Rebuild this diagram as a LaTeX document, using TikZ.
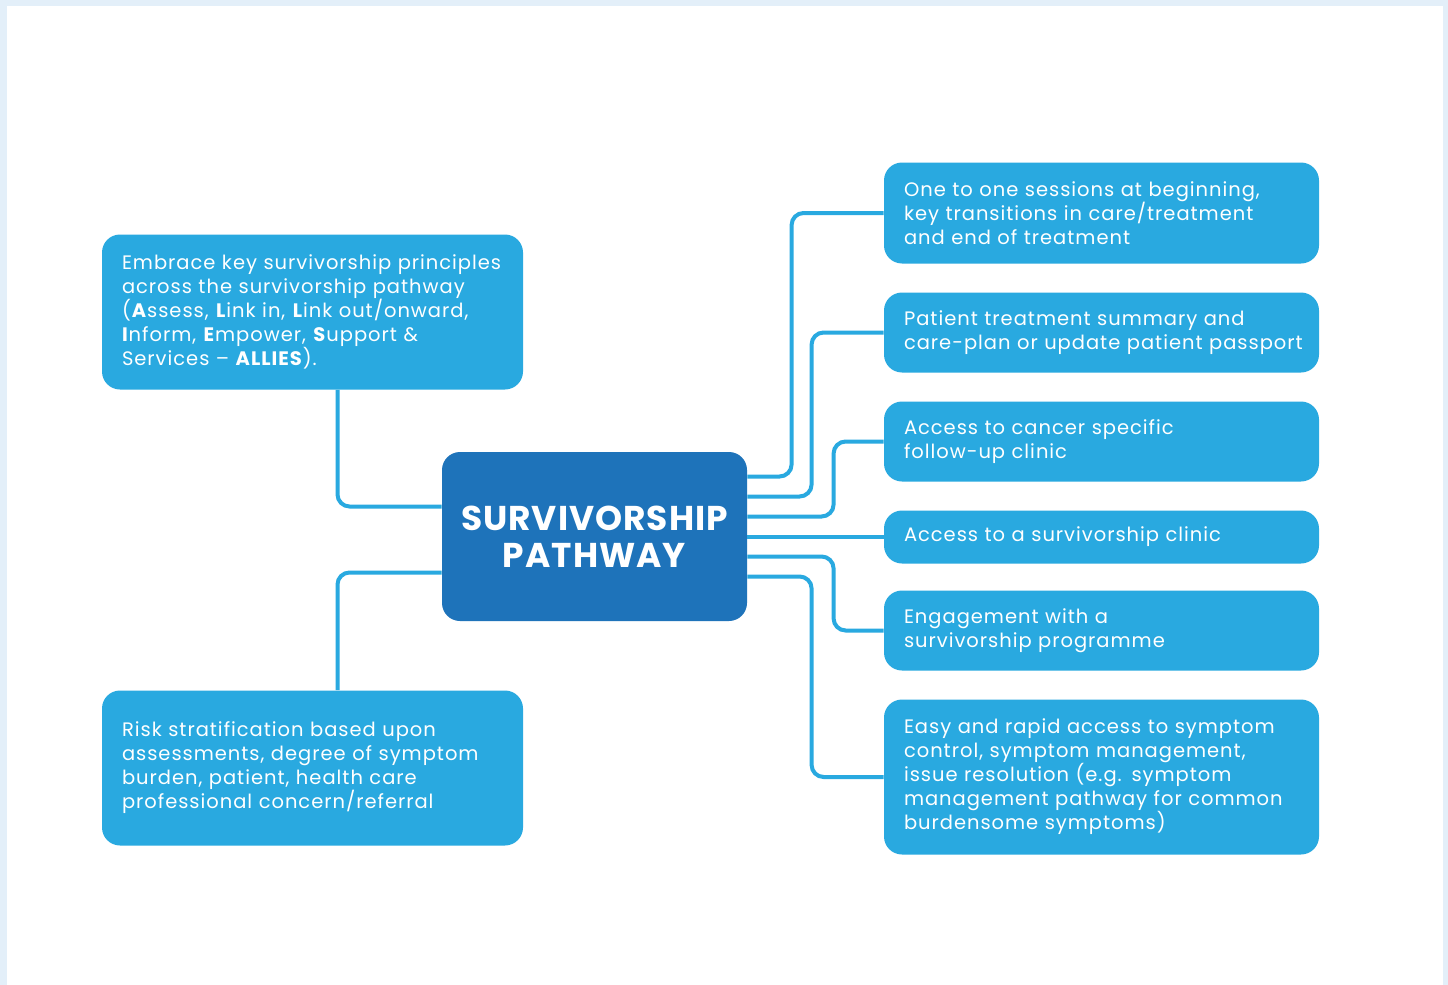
\documentclass[tikz,border=0pt]{standalone}
\usepackage{fontspec}
\setmainfont{Poppins}
\newfontfamily\boxfont{Poppins}[LetterSpace=5]
\newfontfamily\hubfont{Poppins}[LetterSpace=3]
\usepackage{xcolor}
\usetikzlibrary{calc}
\definecolor{boxblue}{HTML}{29A9E0}
\definecolor{midblue}{HTML}{1E73BA}
\definecolor{frameblue}{HTML}{E3EFF9}

\begin{document}
\begin{tikzpicture}[x=0.5pt,y=-0.5pt,
    item/.style={fill=boxblue, text=white, rounded corners=9pt, align=left,
        inner xsep=10pt, inner ysep=0pt, font=\boxfont\fontsize{9.75}{12}\selectfont},
    leftitem/.style={item, text width=190.5pt, minimum width=210.5pt},
    rightitem/.style={item, text width=197.5pt, minimum width=217.5pt},
    hub/.style={fill=midblue, text=white, rounded corners=9pt, align=center,
        minimum width=152.5pt, minimum height=84.5pt,
        font=\hubfont\fontsize{17.2}{18.5}\selectfont\bfseries},
    link/.style={draw=boxblue, line width=2pt, rounded corners=6pt}]

    % frame
    \fill[frameblue] (0,0) rectangle (1448,985);
    \fill[white] (7,6) rectangle (1443,985);
    \useasboundingbox (0,0) rectangle (1448,985);

    \node[hub] (sp) at (594.5,536.5) {SURVIVORSHIP\\PATHWAY};

    \node[leftitem, minimum height=77.5pt] (l1) at (312.5,312)
        {\mbox{Embrace key survivorship principles}\\across the survivorship pathway\\(\textbf{A}ssess, \textbf{L}ink in, \textbf{L}ink out/onward,\\\textbf{I}nform, \textbf{E}mpower, \textbf{S}upport \&\\Services – \textbf{ALLIES}).};
    \node[leftitem, minimum height=77.5pt] (l2) at (312.5,768)
        {Risk stratification based upon\\assessments, degree of symptom\\burden, patient, health care\\professional concern/referral};

    \node[rightitem, minimum height=50.5pt] (r1) at (1101.5,213)
        {One to one sessions at beginning,\\key transitions in care/treatment\\and end of treatment};
    \node[rightitem, minimum height=40pt] (r2) at (1101.5,332.5)
        {Patient treatment summary and\\\mbox{care-plan or update patient passport}};
    \node[rightitem, minimum height=40pt] (r3) at (1101.5,441.5)
        {Access to cancer specific\\follow-up clinic};
    \node[rightitem, minimum height=26.5pt] (r4) at (1101.5,537)
        {Access to a survivorship clinic};
    \node[rightitem, minimum height=40pt] (r5) at (1101.5,630.5)
        {Engagement with a\\survivorship programme};
    \node[rightitem, minimum height=77.5pt] (r6) at (1101.5,777)
        {Easy and rapid access to symptom\\control, symptom management,\\issue resolution (e.g. symptom\\management pathway for common\\burdensome symptoms)};

    % connectors
    \draw[link] ($(l1.south)+(25,0)$) |- ($(sp.west)+(0,-30)$);
    \draw[link] ($(sp.west)+(0,36)$) -| ($(l2.north)+(25,0)$);
    \foreach \dy/\target/\dx in {-60/r1/92, -40/r2/72, -20/r3/50, 20/r5/50, 40/r6/72} {
        \draw[link] ($(sp.east)+(0,\dy)$) -| ($(\target.west)+(-\dx,0)$) -- (\target.west);
    }
    \draw[link] (sp.east) -- (sp.east -| r4.west);
\end{tikzpicture}
\end{document}
